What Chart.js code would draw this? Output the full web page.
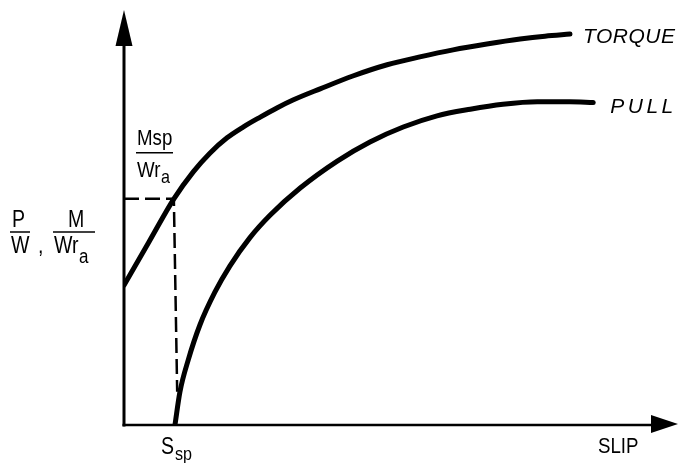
<!DOCTYPE html>
<html>
<head>
<meta charset="utf-8">
<style>
  html, body { margin: 0; padding: 0; background: #fff; }
</style>
</head>
<body>
<canvas id="myChart" width="687" height="463"></canvas>
<script src="https://cdn.jsdelivr.net/npm/chart.js@4/dist/chart.umd.min.js"></script>
<script>
// slip vs. pull / torque ratio sketch, no numbered ticks in the original
const torqueSlip = [0, 4.5, 9.0, 12.5, 15.5, 18.6, 21.5, 24.6, 27.6, 30.5, 35.4, 41.3, 47.5, 53.4, 59.4, 65.5, 71.5, 76.0, 80.5];
const torqueValues = [33.7, 44.1, 54.5, 61.0, 65.5, 69.2, 71.8, 74.2, 76.4, 78.3, 81.0, 84.1, 86.8, 88.7, 90.4, 91.8, 93.0, 93.7, 94.2];
const pullSlip = [9.2, 10.1, 11.6, 13.7, 16.4, 19.1, 22.7, 26.4, 31.8, 38.5, 44.4, 50.4, 56.5, 62.5, 68.4, 74.6, 80.5, 84.7];
const pullValues = [0, 8.0, 15.7, 24.1, 32.0, 38.3, 45.1, 50.6, 57.1, 63.6, 68.2, 71.8, 74.5, 76.1, 77.3, 77.9, 77.9, 77.7];
// dashed guide: Msp/Wr_a level down to S_sp
const guideSlip = [0, 9.0, 9.6];
const guideValues = [54.5, 54.5, 8.0];
const xMax = 100;
const yMax = 100;

const ink = '#000';
const sans = '"Liberation Sans", Arial, sans-serif';
const squeeze = 0.85; // the lettering in the original is a condensed face

const toPoints = (xs, ys) => xs.map((v, i) => ({ x: v, y: ys[i] }));

// condensed text: returns the drawn width
const narrowText = (ctx, text, x, y, size) => {
    ctx.font = size + 'px ' + sans;
    const w = ctx.measureText(text).width * squeeze;
    ctx.save();
    ctx.translate(x, y);
    ctx.scale(squeeze, 1);
    ctx.fillText(text, 0, 0);
    ctx.restore();
    return w;
};

// stacked fraction with an optional subscript after the denominator
const fraction = (ctx, f) => {
    narrowText(ctx, f.num, f.left + f.numDx, f.lineY - f.numGap, f.size);
    ctx.lineWidth = 1.5;
    ctx.beginPath();
    ctx.moveTo(f.left, f.lineY);
    ctx.lineTo(f.left + f.len, f.lineY);
    ctx.stroke();
    const w = narrowText(ctx, f.den, f.left + 1, f.lineY + f.denGap, f.size);
    if (f.sub) {
        narrowText(ctx, f.sub, f.left + 1.5 + w, f.lineY + f.subGap, f.size - 3);
    }
};

const sketchAxes = {
    id: 'sketchAxes',
    beforeDatasetsDraw(chart) {
        const { ctx, scales: { x, y } } = chart;
        const x0 = x.getPixelForValue(0);
        const y0 = y.getPixelForValue(0);
        const xEnd = x.getPixelForValue(xMax);
        const yEnd = y.getPixelForValue(yMax);
        ctx.save();
        ctx.strokeStyle = ink;
        ctx.fillStyle = ink;
        // vertical axis with arrow
        ctx.lineWidth = 3;
        ctx.beginPath();
        ctx.moveTo(x0, y0 + 1.5);
        ctx.lineTo(x0, yEnd + 30);
        ctx.stroke();
        ctx.beginPath();
        ctx.moveTo(x0, yEnd);
        ctx.lineTo(x0 - 8.5, yEnd + 36);
        ctx.lineTo(x0 + 8.5, yEnd + 36);
        ctx.closePath();
        ctx.fill();
        // horizontal axis with arrow
        ctx.lineWidth = 2.5;
        ctx.beginPath();
        ctx.moveTo(x0 - 1.5, y0);
        ctx.lineTo(xEnd - 20, y0);
        ctx.stroke();
        ctx.beginPath();
        ctx.moveTo(xEnd, y0 - 1);
        ctx.lineTo(xEnd - 27, y0 - 10);
        ctx.lineTo(xEnd - 27, y0 + 8);
        ctx.closePath();
        ctx.fill();
        ctx.restore();
    },
    afterDatasetsDraw(chart) {
        const { ctx, scales: { x, y } } = chart;
        const y0 = y.getPixelForValue(0);
        const xEnd = x.getPixelForValue(xMax);
        ctx.save();
        ctx.fillStyle = ink;
        ctx.strokeStyle = ink;
        ctx.textBaseline = 'alphabetic';
        ctx.textAlign = 'left';

        // curve names
        const tx = x.getPixelForValue(torqueSlip[torqueSlip.length - 1]);
        const ty = y.getPixelForValue(torqueValues[torqueValues.length - 1]);
        ctx.font = 'italic 21px ' + sans;
        ctx.letterSpacing = '0.5px';
        ctx.fillText('TORQUE', tx + 13, ty + 9);
        const px = x.getPixelForValue(pullSlip[pullSlip.length - 1]);
        const py = y.getPixelForValue(pullValues[pullValues.length - 1]);
        ctx.letterSpacing = '3.5px';
        ctx.fillText('PULL', px + 17, py + 10);
        ctx.letterSpacing = '0px';

        // axis titles
        narrowText(ctx, 'SLIP', xEnd - 80, y0 + 28, 22);
        const sx = x.getPixelForValue(pullSlip[0]);
        const sw = narrowText(ctx, 'S', sx - 14, y0 + 29, 23);
        narrowText(ctx, 'sp', sx - 13 + sw, y0 + 35, 19);

        // Msp / Wr_a just above the dashed level
        const gy = y.getPixelForValue(guideValues[0]);
        fraction(ctx, { num: 'Msp', den: 'Wr', sub: 'a', left: 136, lineY: gy - 46, len: 37, size: 22,
            numDx: 1, numGap: 8, denGap: 24, subGap: 30 });

        // P/W , M/Wr_a beside the vertical axis
        fraction(ctx, { num: 'P', den: 'W', sub: null, left: 10, lineY: 232, len: 20, size: 23,
            numDx: 2, numGap: 5, denGap: 21, subGap: 0 });
        narrowText(ctx, ',', 38, 253, 23);
        fraction(ctx, { num: 'M', den: 'Wr', sub: 'a', left: 53, lineY: 232, len: 42, size: 23,
            numDx: 15, numGap: 5, denGap: 21, subGap: 31 });
        ctx.restore();
    }
};

const config = {
    type: 'scatter',
    data: {
        datasets: [
            {
                label: 'Torque',
                data: toPoints(torqueSlip, torqueValues),
                showLine: true,
                borderColor: ink,
                borderWidth: 5,
                borderCapStyle: 'round',
                cubicInterpolationMode: 'monotone'
            },
            {
                label: 'Pull',
                data: toPoints(pullSlip, pullValues),
                showLine: true,
                borderColor: ink,
                borderWidth: 5,
                borderCapStyle: 'round',
                cubicInterpolationMode: 'monotone'
            },
            {
                label: 'Guide',
                data: toPoints(guideSlip, guideValues),
                showLine: true,
                borderColor: ink,
                borderWidth: 2.5,
                borderDash: [15, 6],
                tension: 0
            }
        ]
    },
    options: {
        responsive: false,
        animation: false,
        layout: { padding: { left: 124, right: 9, top: 10, bottom: 38 } },
        elements: { point: { radius: 0, hoverRadius: 0 } },
        plugins: {
            legend: { display: false },
            tooltip: { enabled: false }
        },
        scales: {
            x: { type: 'linear', min: 0, max: xMax, display: false },
            y: { type: 'linear', min: 0, max: yMax, display: false }
        }
    },
    plugins: [sketchAxes]
};

const ctx = document.getElementById('myChart');
const myChart = new Chart(ctx, config);
</script>
</body>
</html>
